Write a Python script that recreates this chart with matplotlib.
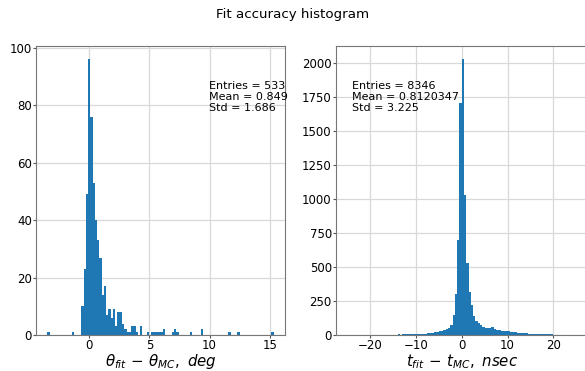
import numpy as np
import matplotlib
matplotlib.use("Agg")
import matplotlib.pyplot as plt

# theta histogram: 100 bins between the data min and max
theta_range = (-3.49, 15.33)
theta_counts = [
    1, 0, 0, 0, 0, 0, 0, 0, 0, 0,
    0, 1, 0, 0, 0, 10, 23, 49, 96, 76,
    53, 40, 33, 27, 14, 17, 7, 9, 6, 9,
    3, 8, 8, 4, 2, 1, 1, 3, 3, 1,
    0, 3, 0, 0, 1, 0, 1, 1, 1, 1,
    1, 2, 0, 0, 0, 1, 2, 1, 0, 0,
    0, 0, 0, 1, 0, 0, 0, 0, 2, 0,
    0, 0, 0, 0, 0, 0, 0, 0, 0, 0,
    1, 0, 0, 0, 1, 0, 0, 0, 0, 0,
    0, 0, 0, 0, 0, 0, 0, 0, 0, 1,
]
theta_stats = ["Entries = 533", "Mean = 0.849", "Std = 1.686"]

# time histogram: 100 bins between -25 and 25 ns
time_range = (-25.0, 25.0)
time_counts = [
    1, 2, 1, 2, 1, 1, 2, 1, 2, 2,
    2, 1, 2, 2, 3, 2, 2, 3, 2, 3,
    3, 3, 4, 3, 4, 4, 5, 4, 5, 6,
    6, 7, 8, 9, 10, 12, 14, 16, 19, 22,
    26, 30, 36, 43, 55, 75, 146, 300, 695, 1707,
    2025, 1029, 532, 317, 220, 140, 105, 85, 72, 62,
    55, 52, 48, 58, 45, 40, 36, 33, 30, 28,
    26, 24, 22, 20, 18, 16, 14, 13, 12, 11,
    10, 9, 8, 7, 6, 6, 5, 5, 4, 4,
    3, 3, 3, 2, 2, 2, 2, 1, 1, 1,
]
time_stats = ["Entries = 8346", "Mean = 0.8120347", "Std = 3.225"]

fig = plt.figure(figsize=(5.85, 3.71), dpi=100)
fig.suptitle("Fit accuracy histogram", fontsize=9.6, y=0.978)

ax1 = fig.add_axes([0.0615, 0.097, 0.4256, 0.78])
ax2 = fig.add_axes([0.5738, 0.097, 0.4308, 0.78])


def draw(ax, counts, rng, stats, xlabel, tx):
    edges = np.linspace(rng[0], rng[1], len(counts) + 1)
    ax.hist(edges[:-1], bins=edges, weights=counts, color="#1f77b4")
    ax.grid(True, color="#d8d8d8", linewidth=0.9)
    ax.set_axisbelow(True)
    ax.tick_params(labelsize=8.5, length=2, pad=0.8, color="#555555")
    for s in ax.spines.values():
        s.set_color("#777777")
    ax.set_xlabel(xlabel, fontsize=10.8, labelpad=0)
    ax.text(tx, 0.878, "\n".join(stats), transform=ax.transAxes,
            va="top", ha="left", fontsize=8, linespacing=1.15)


draw(ax1, theta_counts, theta_range, theta_stats,
     r"$\theta_{fit}\,-\,\theta_{MC},\ deg$", 0.695)
draw(ax2, time_counts, time_range, time_stats,
     r"$t_{fit}\,-\,t_{MC},\ nsec$", 0.065)

fig.savefig("out.png", dpi=100)
